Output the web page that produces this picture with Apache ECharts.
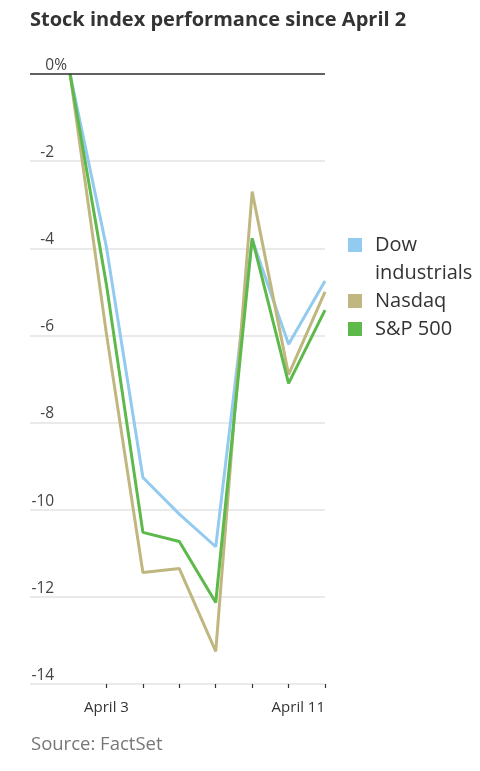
<!DOCTYPE html>
<html>
<head>
<meta charset="utf-8">
<script src="https://cdn.jsdelivr.net/npm/echarts@6/dist/echarts.min.js"></script>
<style>
html,body{margin:0;padding:0;background:#fff;}
#c{width:480px;height:771px;}
</style>
</head>
<body>
<div id="c"></div>
<script>
const dates = ['April 2','April 3','April 4','April 7','April 8','April 9','April 10','April 11'];
const dow = [0, -3.98, -9.26, -10.1, -10.85, -3.8, -6.2, -4.75];
const nasdaq = [0, -5.97, -11.44, -11.35, -13.25, -2.7, -6.9, -5.0];
const sp500 = [0, -4.84, -10.52, -10.73, -12.13, -3.77, -7.1, -5.42];
const yTicks = [-14, -12, -10, -8, -6, -4, -2, 0];
const seriesNames = ['Dow industrials', 'Nasdaq', 'S&P 500'];
const colors = ['#93caef', '#bfb77f', '#5cb94a'];

const FONT = '"Open Sans", Lato, sans-serif';
const toPairs = arr => arr.map((v, i) => [i, v]);

const chart = echarts.init(document.getElementById('c'), null, {renderer: 'canvas'});
chart.setOption({
  animation: false,
  backgroundColor: '#fff',
  color: colors,
  title: [
    {
      text: 'Stock index performance since April 2',
      left: 30, top: 10, padding: 0,
      textStyle: {fontFamily: FONT, fontSize: 20, fontWeight: 'bold', color: '#333'}
    },
    {
      text: 'Source: FactSet',
      left: 31, top: 735, padding: 0,
      textStyle: {fontFamily: FONT, fontSize: 18.5, fontWeight: 'normal', color: '#777'}
    }
  ],
  legend: {
    orient: 'vertical',
    left: 348, top: 203,
    padding: 0,
    icon: 'rect',
    itemWidth: 14, itemHeight: 14,
    itemGap: 0,
    textStyle: {fontFamily: FONT, fontSize: 20, color: '#333', lineHeight: 28, padding: [0, 0, 0, 8]},
    formatter: name => name === 'Dow industrials' ? ' \nDow\nindustrials' : name,
    data: seriesNames
  },
  grid: {left: 30, right: 155, top: 74, bottom: 87, containLabel: false},
  xAxis: {
    type: 'value',
    min: -1.1, max: 7,
    axisLine: {show: false, onZero: false},
    splitLine: {show: false},
    axisTick: {show: true, length: 4, lineStyle: {color: '#333', width: 1.2}, customValues: [1, 2, 3, 4, 5, 6, 7]},
    axisLabel: {
      customValues: [1, 7],
      formatter: v => dates[Math.round(v)],
      fontFamily: FONT, fontSize: 15, color: '#333', margin: 16,
      alignMaxLabel: 'right'
    }
  },
  yAxis: {
    type: 'value',
    min: yTicks[0], max: yTicks[yTicks.length - 1], interval: 2,
    axisLine: {show: false},
    axisTick: {show: false},
    splitLine: {show: true, lineStyle: {color: '#e3e3e3', width: 1.5}},
    axisLabel: {
      inside: true,
      margin: 37,
      align: 'right',
      verticalAlign: 'bottom',
      fontFamily: FONT, fontSize: 15.5, color: '#444',
      lineHeight: 15,
      padding: [0, 0, 1, 0],
      formatter: v => v === 0 ? '0%' : v + '{h|%}',
      rich: {h: {color: 'rgba(0,0,0,0)', fontFamily: FONT, fontSize: 15.5}}
    }
  },
  series: seriesNames.map((name, k) => ({
    name: name,
    type: 'line',
    data: toPairs([dow, nasdaq, sp500][k]),
    symbol: 'none',
    lineStyle: {width: 3, color: colors[k]},
    itemStyle: {color: colors[k]},
    markLine: k === 0 ? {
      silent: true,
      symbol: 'none',
      label: {show: false},
      lineStyle: {color: '#333', width: 1.5, type: 'solid'},
      data: [{yAxis: yTicks[yTicks.length - 1]}]
    } : undefined
  }))
});
</script>
</body>
</html>
